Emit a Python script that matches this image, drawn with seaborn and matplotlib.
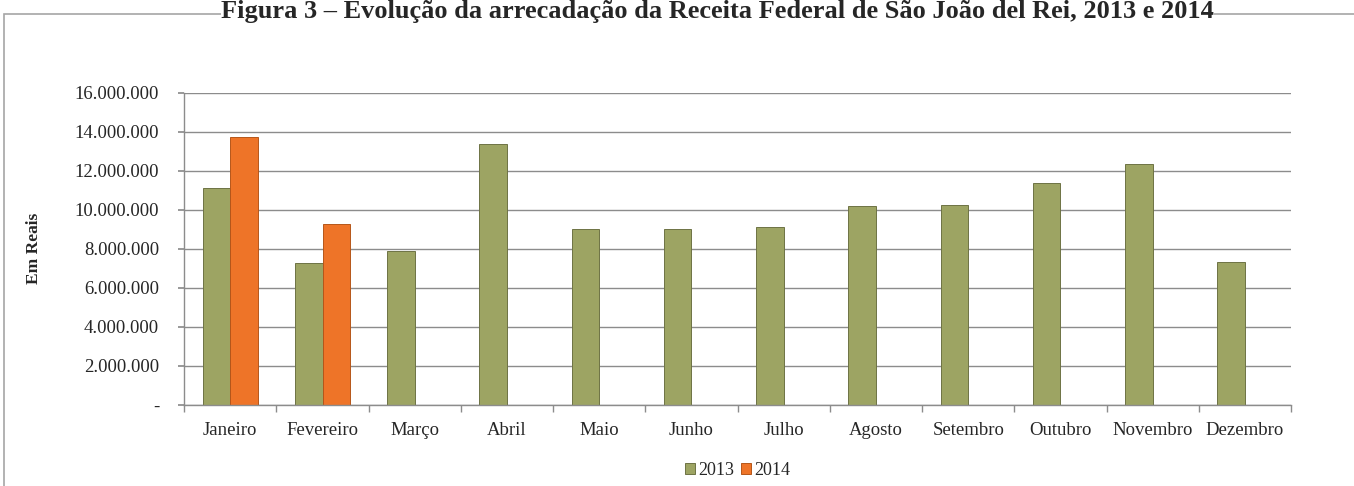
import pandas as pd
import seaborn as sns
import matplotlib.pyplot as plt
from matplotlib.patches import Rectangle
from matplotlib.ticker import FuncFormatter, FixedLocator

# ===== DATA =====
meses = ["Janeiro", "Fevereiro", "Março", "Abril", "Maio", "Junho", "Julho",
         "Agosto", "Setembro", "Outubro", "Novembro", "Dezembro"]
valores_2013 = [11130000, 7290000, 7890000, 13360000, 9030000, 9030000, 9130000,
                10220000, 10270000, 11380000, 12360000, 7350000]
meses_2014 = ["Janeiro", "Fevereiro"]
valores_2014 = [13740000, 9290000]

df = pd.concat([
    pd.DataFrame({"mes": meses, "valor": valores_2013, "ano": "2013"}),
    pd.DataFrame({"mes": meses_2014, "valor": valores_2014, "ano": "2014"}),
])

# ===== PLOT =====
sns.set_theme(style="white")
plt.rcParams["font.family"] = ["Liberation Serif", "DejaVu Serif"]

fig = plt.figure(figsize=(13.54, 4.86), dpi=100)
ax = fig.add_axes([0.136, 0.167, 0.8175, 0.642])

palette = {"2013": "#9DA463", "2014": "#EE7428"}
sns.barplot(data=df, x="mes", y="valor", hue="ano", order=meses,
            hue_order=["2013", "2014"], palette=palette, width=0.6, gap=0,
            errorbar=None, saturation=1, ax=ax, legend=True)
for bar in ax.patches:
    bar.set_edgecolor("#6E7344" if bar.get_facecolor()[0] < 0.8 else "#B5561A")
    bar.set_linewidth(0.7)

ax.set_ylim(0, 16000000)
ax.set_xlim(-0.5, 11.5)
ax.yaxis.set_major_locator(FixedLocator(range(0, 16000001, 2000000)))
ax.yaxis.set_major_formatter(FuncFormatter(
    lambda v, p: "-" if v == 0 else f"{int(v):,}".replace(",", ".")))
ax.grid(axis="y", color="#8C8C8C", linewidth=1)
ax.set_axisbelow(True)

ax.xaxis.set_minor_locator(FixedLocator([i - 0.5 for i in range(13)]))
ax.tick_params(axis="x", which="major", length=0, pad=12, labelsize=13.5)
ax.tick_params(axis="x", which="minor", length=5, color="#8C8C8C", width=1,
               bottom=True)
ax.tick_params(axis="y", length=4, color="#8C8C8C", labelsize=13.5, pad=14,
               left=True)

for side in ["top", "right"]:
    ax.spines[side].set_visible(False)
for side in ["left", "bottom"]:
    ax.spines[side].set_color("#8C8C8C")
    ax.spines[side].set_linewidth(1)

ax.set_xlabel("")
ax.set_ylabel("Em Reais", fontsize=12.5, fontweight="bold", labelpad=0)
ax.yaxis.set_label_coords(-0.128, 0.5)

leg = ax.legend(loc="center", bbox_to_anchor=(0.5, -0.21), ncol=2, frameon=False,
                fontsize=13, handlelength=0.55, handleheight=0.55,
                handletextpad=0.15, columnspacing=0.4)

# frame around chart area
fig.patches.append(Rectangle((0.003, -0.1), 1.1, 1.071, transform=fig.transFigure,
                             fill=False, edgecolor="#A6A6A6", linewidth=1.2))

fig.text(0.53, 0.999,
         "Figura 3 – Evolução da arrecadação da Receita Federal de São João del Rei, 2013 e 2014",
         ha="center", va="top", fontsize=19, fontweight="bold",
         bbox=dict(facecolor="white", edgecolor="none", pad=0))

fig.savefig("out.png", dpi=100)
